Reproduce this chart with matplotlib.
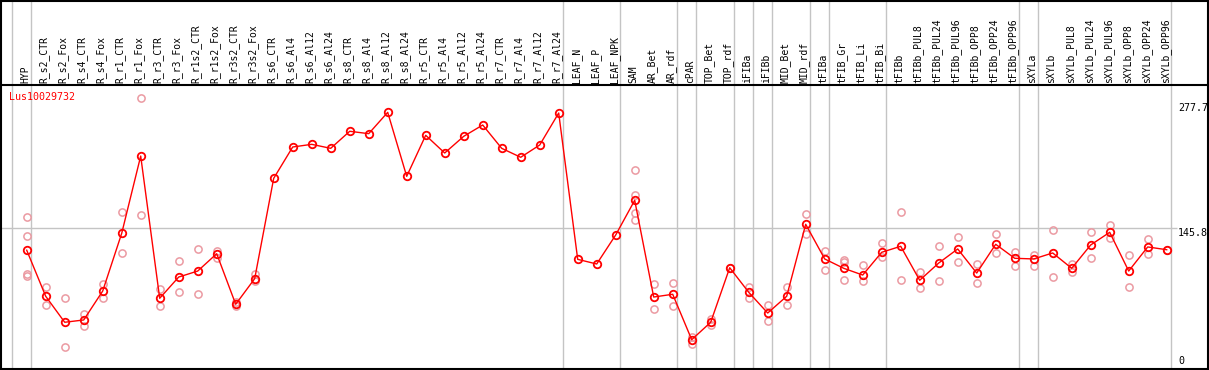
import matplotlib
matplotlib.use("Agg")
import matplotlib.pyplot as plt

gene = "Lus10029732"

samples = ["HYP", "R_s2_CTR", "R_s2_Fox", "R_s4_CTR", "R_s4_Fox", "R_r1_CTR", "R_r1_Fox",
           "R_r3_CTR", "R_r3_Fox", "R_r1s2_CTR", "R_r1s2_Fox", "R_r3s2_CTR", "R_r3s2_Fox",
           "R_s6_CTR", "R_s6_Al4", "R_s6_Al12", "R_s6_Al24", "R_s8_CTR", "R_s8_Al4",
           "R_s8_Al12", "R_s8_Al24", "R_r5_CTR", "R_r5_Al4", "R_r5_Al12", "R_r5_Al24",
           "R_r7_CTR", "R_r7_Al4", "R_r7_Al12", "R_r7_Al24", "LEAF_N", "LEAF_P", "LEAF_NPK",
           "SAM", "AR_Bet", "AR_rdf", "cPAR", "TOP_Bet", "TOP_rdf", "iFIBa", "iFIBb",
           "MID_Bet", "MID_rdf", "tFIBa", "tFIB_Gr", "tFIB_Li", "tFIB_Bi", "tFIBb",
           "tFIBb_PUL8", "tFIBb_PUL24", "tFIBb_PUL96", "tFIBb_OPP8", "tFIBb_OPP24",
           "tFIBb_OPP96", "sXYLa", "sXYLb", "sXYLb_PUL8", "sXYLb_PUL24", "sXYLb_PUL96",
           "sXYLb_OPP8", "sXYLb_OPP24", "sXYLb_OPP96"]

means = [122.8, 74.4, 47.1, 49.5, 79.9, 140.5, 221.7, 72.3, 94.6, 100.9, 119.1, 66.0, 92.9,
         198.3, 231.2, 234.0, 229.8, 247.7, 245.2, 267.6, 200.4, 243.5, 224.9, 242.4, 254.3,
         229.8, 220.4, 233.3, 266.9, 113.2, 108.3, 138.8,
         175.2, 73.6, 76.5, 28.8, 47.1, 104.4, 78.6, 56.8, 74.4, 150.0,
         113.6, 103.8, 96.7, 120.6, 126.9, 91.2, 109.3, 124.1, 98.8, 129.0, 114.3,
         113.6, 119.9, 103.8, 128.3, 141.6, 100.9, 126.2, 123.3]

replicates = [
    [157.6, 137.7, 97.5, 96.0], [84.1, 65.2], [72.3, 21.1], [56.1, 43.5], [87.6, 72.3],
    [162.6, 119.9], [282.4, 159.8], [82.0, 63.9], [111.1, 78.6], [124.1, 76.5],
    [122.0, 114.9], [68.7, 63.9], [97.5, 90.4],
    [], [], [], [], [], [], [], [], [], [], [], [], [], [], [], [], [], [], [],
    [206.7, 180.8, 161.9, 154.2], [87.0, 61.0], [88.3, 63.9], [31.6, 24.6], [50.5, 44.2],
    [104.4], [84.1, 72.9], [65.2, 48.4], [84.1, 65.2], [160.5, 140.1],
    [122.0, 101.7], [112.8, 110.1, 91.2], [107.2, 90.4], [130.4, 115.7], [162.6, 91.2],
    [99.6, 83.4], [127.5, 90.4], [136.7, 110.1], [108.0, 88.3], [139.5, 119.9],
    [121.2, 105.9], [117.8, 106.5], [143.7, 94.6], [108.6, 99.6], [141.6, 114.9],
    [149.3, 135.3], [117.8, 84.1], [134.6, 118.6], [123.3],
]

# group separators sit just right of these sample indexes
separators = [-1, 0, 28, 31, 34, 35, 37, 38, 39, 41, 42, 45, 52, 53, 60]
y_ticks = [277.7, 145.8, 0]

W, H = 1209, 370
fig = plt.figure(figsize=(W / 100, H / 100), dpi=100)

# pixel -> data: x = 26.7 + 19*i, y = 367.1 - 0.952*v
def px_x(p):
    return (p - 26.7) / 19.0

def px_y(p):
    return (367.1 - p) / 0.952

ax = fig.add_axes([1 / W, 1 / H, 1207 / W, 368.5 / H])
ax.set_xlim(px_x(1), px_x(1208))
ax.set_ylim(px_y(369), px_y(0.5))
ax.set_xticks([])
ax.set_yticks([])
for s in ax.spines.values():
    s.set_linewidth(1.5)
    s.set_color("black")

grey = "#c4c4c4"
for s in separators:
    ax.axvline(s + 0.2, color=grey, lw=1, zorder=1)
ax.hlines(145.8, px_x(1), px_x(1177), color=grey, lw=1, zorder=1)
ax.axhline(px_y(85), color="black", lw=1.5, zorder=2)

pink = "#eb9aa2"
for i, reps in enumerate(replicates):
    if reps:
        ax.plot([i] * len(reps), reps, ls="none", marker="o", ms=5.2, mfc="none",
                mec=pink, mew=1.1, zorder=3)

x = list(range(len(samples)))
ax.plot(x, means, color="red", lw=1, marker="o", ms=5.4, mfc="none", mec="red",
        mew=1.3, zorder=4)

font = "DejaVu Sans Mono"
for i, name in enumerate(samples):
    ax.text(i - 0.07, px_y(83.3), name, rotation=90, ha="center", va="bottom",
            fontsize=7, family=font, color="black")

ax.text(px_x(9.3), px_y(97.5), gene, ha="left", va="center", fontsize=7.2,
        family=font, color="red")

for v in y_ticks:
    if v == 0:
        ax.text(px_x(1178), px_y(366), "0", ha="left", va="bottom", fontsize=7.2,
                family=font, color="black")
    else:
        ax.text(px_x(1178), v, f"{v}", ha="left", va="top", fontsize=7.2,
                family=font, color="black")

fig.savefig("out.png", dpi=100)
